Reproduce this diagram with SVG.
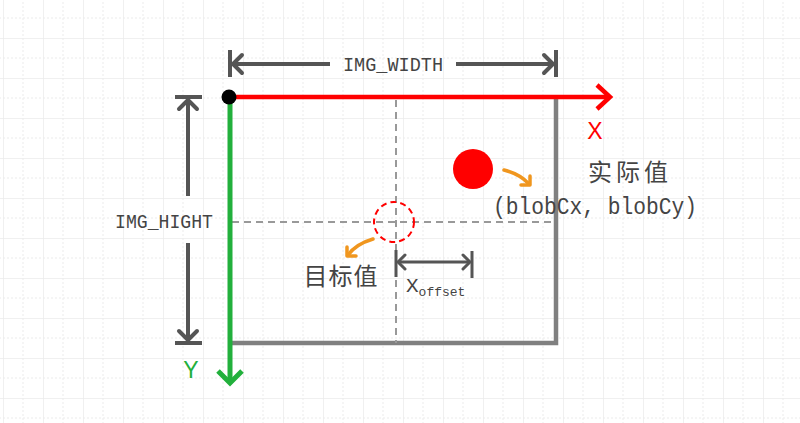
<svg xmlns="http://www.w3.org/2000/svg" width="800" height="423" viewBox="0 0 800 423">
<defs>
<pattern id="grid" x="3" y="-2" width="40" height="40" patternUnits="userSpaceOnUse">
<path d="M20 0V40M0 20H40" stroke="#ebebeb" stroke-width="1" stroke-dasharray="2 2" fill="none"/>
<path d="M0 0V40M0 0H40" stroke="#ebebeb" stroke-width="1.5" fill="none"/>
</pattern>
<style>
.dim{stroke:#555;stroke-width:4;fill:none;stroke-linecap:butt}
.dimhead{stroke:#555;stroke-width:4;fill:none;stroke-linecap:round;stroke-linejoin:round}
.dash{stroke:#999;stroke-width:2;stroke-dasharray:7 5;fill:none}
.lbl{font-family:"Liberation Mono","DejaVu Sans Mono",monospace;fill:#444}
.cjk{font-family:"Noto Sans CJK SC","Noto Sans",sans-serif;fill:#444}
.orange{stroke:#f0961e;stroke-width:3.5;fill:none;stroke-linecap:round;stroke-linejoin:round}
</style>
</defs>
<rect width="800" height="423" fill="#ffffff"/>
<rect width="800" height="423" fill="url(#grid)"/>

<g id="frame">
<path d="M230 343H556V97" stroke="#808080" stroke-width="4.5" fill="none"/>
</g>

<g id="guides">
<line class="dash" x1="396" y1="100" x2="396" y2="343"/>
<line class="dash" x1="232" y1="222" x2="556" y2="222"/>
</g>

<g id="x-axis">
<line x1="230" y1="97" x2="609" y2="97" stroke="#ff0000" stroke-width="4.5"/>
<path d="M597 85L610 97L597 109" stroke="#ff0000" stroke-width="4.5" fill="none"/>
<text x="595" y="139" font-family="Liberation Sans,Arial,sans-serif" font-size="23" fill="#ff0000" text-anchor="middle">X</text>
</g>

<g id="y-axis">
<line x1="230" y1="97" x2="230" y2="382" stroke="#22b03c" stroke-width="5"/>
<path d="M218 371L230 383L242 371" stroke="#22b03c" stroke-width="5" fill="none"/>
<text x="191" y="378" font-family="Liberation Sans,Arial,sans-serif" font-size="23" fill="#22b03c" text-anchor="middle">Y</text>
</g>

<g id="origin">
<circle cx="229" cy="97" r="7.5" fill="#000"/>
</g>

<g id="img-width">
<line class="dim" x1="230" y1="50" x2="230" y2="77"/>
<line class="dim" x1="556" y1="50" x2="556" y2="77"/>
<line class="dim" x1="232" y1="64" x2="330" y2="64"/>
<line class="dim" x1="456" y1="64" x2="554" y2="64"/>
<path class="dimhead" d="M242 55L233 64L242 73"/>
<path class="dimhead" d="M544 55L553 64L544 73"/>
<text class="lbl" x="343" y="71" font-size="21" textLength="100" lengthAdjust="spacingAndGlyphs">IMG_WIDTH</text>
</g>

<g id="img-hight">
<line class="dim" x1="175" y1="97" x2="202" y2="97"/>
<line class="dim" x1="175" y1="343" x2="202" y2="343"/>
<line class="dim" x1="188" y1="99" x2="188" y2="196"/>
<line class="dim" x1="188" y1="243" x2="188" y2="341"/>
<path class="dimhead" d="M179 109L188 100L197 109"/>
<path class="dimhead" d="M179 331L188 340L197 331"/>
<text class="lbl" x="115" y="228" font-size="21" textLength="98" lengthAdjust="spacingAndGlyphs">IMG_HIGHT</text>
</g>

<g id="target">
<circle cx="394" cy="222" r="20" fill="none" stroke="#ff0000" stroke-width="2" stroke-dasharray="6 4"/>
<path class="orange" d="M373 239Q356 244 348 255"/>
<path class="orange" d="M347 247L347 256L356 256"/>
<text class="cjk" x="341" y="285" font-size="24" text-anchor="middle" letter-spacing="1">目标值</text>
</g>

<g id="actual">
<circle cx="473" cy="169" r="20" fill="#ff0000"/>
<path class="orange" d="M504 170Q520 174 529 184"/>
<path class="orange" d="M521 185L530 185L530 176"/>
<text class="cjk" x="630" y="181" font-size="24" text-anchor="middle" letter-spacing="4">实际值</text>
<text class="lbl" x="493" y="214" font-size="23" textLength="204" lengthAdjust="spacingAndGlyphs">(blobCx, blobCy)</text>
</g>

<g id="x-offset">
<line x1="396" y1="250" x2="396" y2="277" stroke="#555" stroke-width="3"/>
<line x1="472" y1="251" x2="472" y2="278" stroke="#555" stroke-width="3"/>
<line x1="398" y1="262" x2="470" y2="262" stroke="#555" stroke-width="3"/>
<path d="M405 255L398 262L405 269M463 255L470 262L463 269" stroke="#555" stroke-width="3" fill="none" stroke-linecap="round" stroke-linejoin="round"/>
<text class="lbl" x="406" y="292" font-size="21">X<tspan font-size="13" dy="4">offset</tspan></text>
</g>
</svg>
